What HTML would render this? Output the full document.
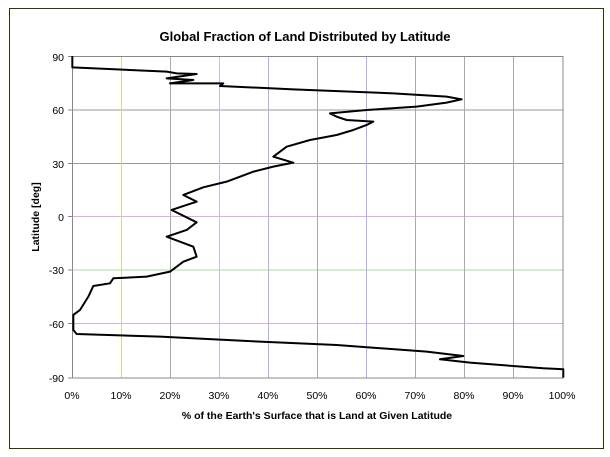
<!DOCTYPE html>
<html><head><style>
body{margin:0;background:#fff;width:610px;height:452px;overflow:hidden}
svg text{font-family:"Liberation Sans",sans-serif;fill:#000}
</style></head><body>
<svg width="610" height="452" viewBox="0 0 610 452">
<rect x="9.5" y="8.5" width="594" height="440" fill="#fff" stroke="#333300" stroke-width="1"/>
<text x="305" y="41" text-anchor="middle" font-size="13" font-weight="bold">Global Fraction of Land Distributed by Latitude</text>
<g stroke-width="1" fill="none">
<line x1="72" y1="110" x2="563" y2="110" stroke="#999"/>
<line x1="72" y1="163.5" x2="563" y2="163.5" stroke="#999"/>
<line x1="72" y1="216.5" x2="563" y2="216.5" stroke="#e8a8e8"/>
<line x1="72" y1="270" x2="563" y2="270" stroke="#a8d8a0"/>
<line x1="72" y1="323.5" x2="563" y2="323.5" stroke="#e8a8e8"/>
<line x1="121.5" y1="56" x2="121.5" y2="378" stroke="#d8d890"/>
<line x1="170.5" y1="56" x2="170.5" y2="378" stroke="#aaa"/>
<line x1="219.5" y1="56" x2="219.5" y2="378" stroke="#c0c0e8"/>
<line x1="268.5" y1="56" x2="268.5" y2="378" stroke="#b0b0e8"/>
<line x1="317.5" y1="56" x2="317.5" y2="378" stroke="#aaa"/>
<line x1="366.5" y1="56" x2="366.5" y2="378" stroke="#b0b0e8"/>
<line x1="415.5" y1="56" x2="415.5" y2="378" stroke="#aaa"/>
<line x1="464.5" y1="56" x2="464.5" y2="378" stroke="#aaa"/>
<line x1="513.5" y1="56" x2="513.5" y2="378" stroke="#aaa"/>
<rect x="72.5" y="56.5" width="490.5" height="321.5" stroke="#888"/>
</g>
<g stroke="#888">
<line x1="68" y1="56.5" x2="72" y2="56.5"/><line x1="68" y1="110" x2="72" y2="110"/><line x1="68" y1="163.5" x2="72" y2="163.5"/><line x1="68" y1="216.5" x2="72" y2="216.5"/><line x1="68" y1="270" x2="72" y2="270"/><line x1="68" y1="323.5" x2="72" y2="323.5"/><line x1="68" y1="378" x2="72" y2="378"/>
</g>
<g font-size="10.5" text-anchor="end">
<text x="64" y="61">90</text><text x="64" y="114">60</text><text x="64" y="168">30</text><text x="64" y="221">0</text><text x="64" y="274">-30</text><text x="64" y="328">-60</text><text x="64" y="382">-90</text>
</g>
<g font-size="10.5" text-anchor="middle">
<text x="72" y="399">0%</text><text x="121" y="399">10%</text><text x="170" y="399">20%</text><text x="219" y="399">30%</text><text x="268" y="399">40%</text><text x="317" y="399">50%</text><text x="366" y="399">60%</text><text x="415" y="399">70%</text><text x="464" y="399">80%</text><text x="513" y="399">90%</text><text x="562" y="399">100%</text>
</g>
<text x="317" y="419" text-anchor="middle" font-size="10.5" font-weight="bold">% of the Earth's Surface that is Land at Given Latitude</text>
<text transform="translate(39,217) rotate(-90)" text-anchor="middle" font-size="10.5" font-weight="bold">Latitude [deg]</text>
<g transform="translate(60,50) scale(0.3333)">
<polyline fill="none" stroke="#000" stroke-width="2" vector-effect="non-scaling-stroke" stroke-linejoin="round" points="37,18 37,52 320,65 350,70 410,72 320,85 400,90 330,100 490,100 480,108 700,118 1000,130 1160,140 1205,148 1160,158 1070,170 920,180 810,190 830,200 860,210 940,215 920,225 880,240 830,255 750,270 680,290 640,320 700,338 640,350 580,365 500,395 430,412 370,435 410,455 380,465 335,480 410,517 380,540 320,560 400,590 410,620 370,635 330,665 260,680 160,685 150,700 100,708 85,740 60,780 40,795 40,840 50,852 300,860 600,875 830,885 1100,905 1210,918 1140,928 1230,938 1450,955 1510,958 1510,983"/>
</g>
</svg>
</body></html>
